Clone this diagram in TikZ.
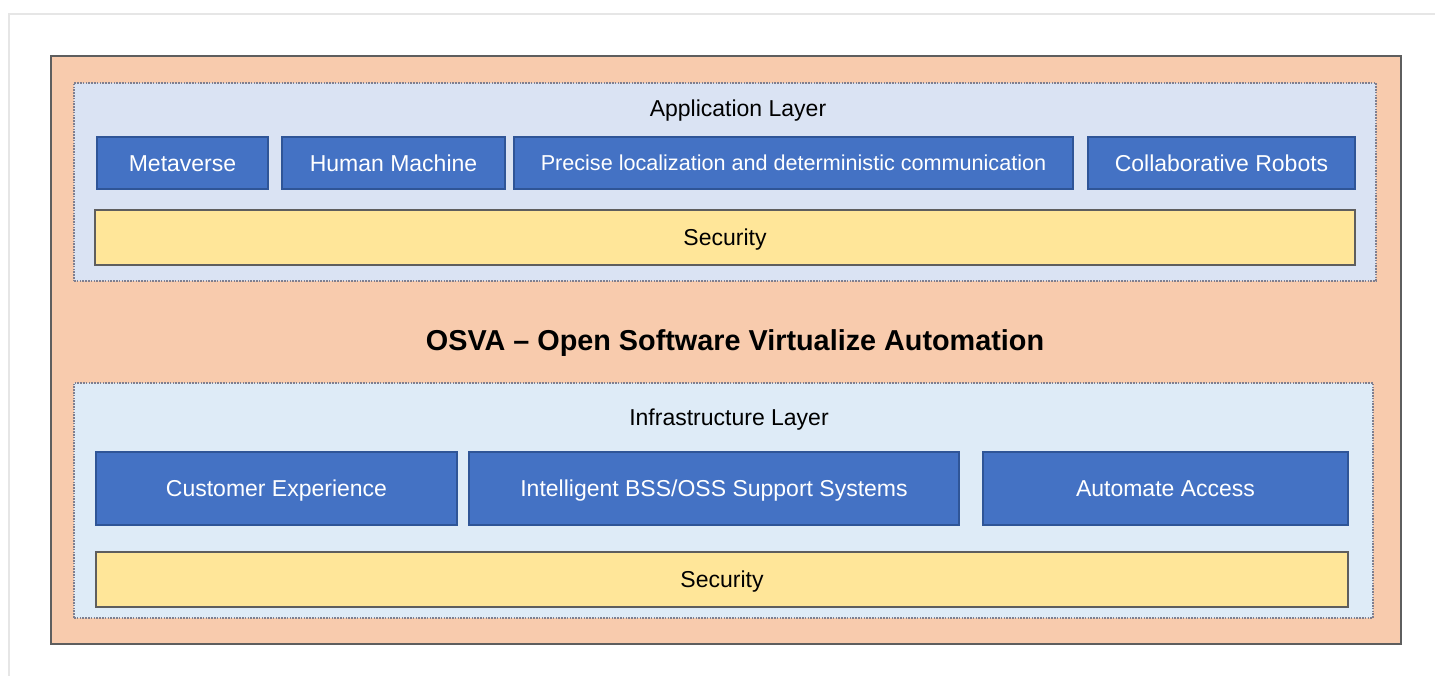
\documentclass[tikz,border=0pt]{standalone}
\usepackage{fontspec}
\setmainfont{Liberation Sans}
\definecolor{orangefill}{HTML}{F8CBAD}
\definecolor{outerline}{HTML}{5E5E5E}
\definecolor{appfill}{HTML}{DAE3F3}
\definecolor{infrafill}{HTML}{DEEBF7}
\definecolor{bluefill}{HTML}{4472C4}
\definecolor{blueline}{HTML}{2F5597}
\definecolor{yellowfill}{HTML}{FFE699}
\definecolor{dotline}{HTML}{7F7F8F}
\definecolor{frameline}{HTML}{E6E6E6}
\tikzset{
  box/.style={rectangle, inner sep=0pt, outer sep=0pt, align=center},
  txt/.style={font=\fontsize{23}{27}\selectfont, text height=16.5pt, text depth=0pt},
  outerbox/.style={box, fill=orangefill, draw=outerline, line width=2pt},
  layerbox/.style={box, draw=dotline, line width=1.6pt, dash pattern=on 1.6pt off 1.2pt},
  bluebox/.style={box, txt, fill=bluefill, draw=blueline, line width=1.2pt, text=white, minimum height=52pt},
  secbox/.style={box, txt, fill=yellowfill, draw=outerline, line width=1.6pt, minimum height=55pt},
  lbl/.style={inner sep=0pt, txt},
}
\begin{document}
\begin{tikzpicture}[x=1pt,y=-1pt]
\useasboundingbox (0,0) rectangle (1435,676);
\coordinate (ftl) at (9,14);
\coordinate (ftr) at (1435,14);
\coordinate (fbl) at (9,676);
\draw[frameline, line width=1.5pt] (fbl) -- (ftl) -- (ftr);
\node[outerbox, minimum width=1350pt, minimum height=588pt] (outer) at (726,350) {};
\node[layerbox, fill=appfill, minimum width=1302pt, minimum height=198pt] (app) at (725,182) {};
\node[layerbox, fill=infrafill, minimum width=1299pt, minimum height=235pt] (infra) at (723.5,500.5) {};
\node[lbl] (applbl) at (738,108) {Application Layer};
\node[bluebox, minimum width=171pt] (meta) at (182.5,163) {Metaverse};
\node[bluebox, minimum width=223pt] (human) at (393.5,163) {Human Machine};
\node[bluebox, minimum width=559pt, font=\fontsize{21.6}{26}\selectfont, text height=15.5pt] (precise) at (793.5,163) {Precise localization and deterministic communication};
\node[bluebox, minimum width=267pt] (collab) at (1221.5,163) {Collaborative Robots};
\node[secbox, minimum width=1260pt] (sec1) at (725,237.5) {Security};
\node[inner sep=0pt, font=\fontsize{28.8}{32}\selectfont\bfseries, text height=20.5pt, text depth=0pt] (title) at (735,340) {OSVA – Open Software Virtualize Automation};
\node[lbl] (infralbl) at (729,417) {Infrastructure Layer};
\node[bluebox, minimum width=361pt, minimum height=73pt] (cust) at (276.5,488.5) {Customer Experience};
\node[bluebox, minimum width=490pt, minimum height=73pt] (intel) at (714,488.5) {Intelligent BSS/OSS Support Systems};
\node[bluebox, minimum width=365pt, minimum height=73pt] (auto) at (1165.5,488.5) {Automate Access};
\node[secbox, minimum width=1252pt] (sec2) at (722,579.5) {Security};
\end{tikzpicture}
\end{document}
